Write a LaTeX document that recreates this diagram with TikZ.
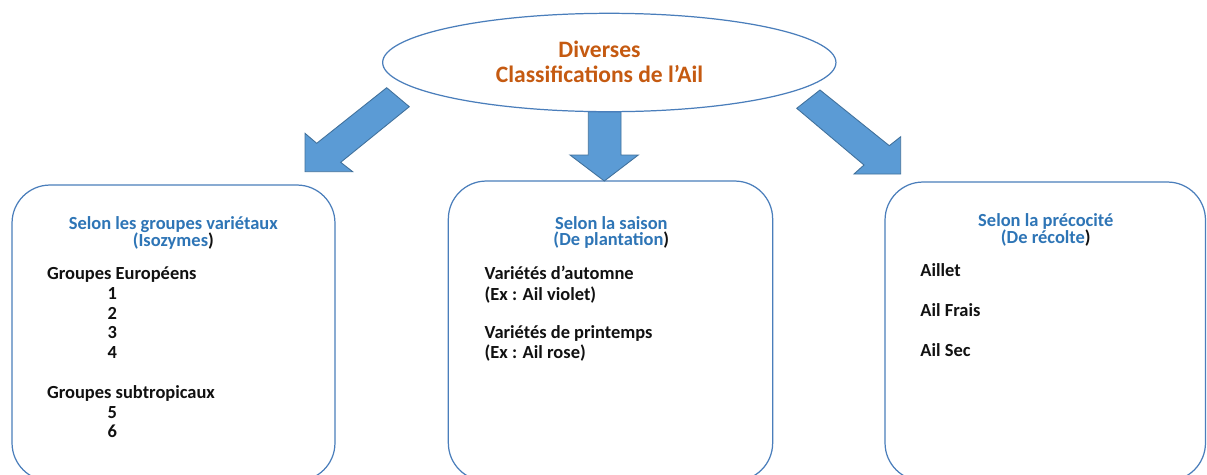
\documentclass[tikz,border=0pt]{standalone}
\usepackage{fontspec}
\setmainfont{Carlito}
\usetikzlibrary{shapes.geometric}
\definecolor{boxline}{HTML}{4A7EBB}
\definecolor{arrowfill}{HTML}{5B9BD5}
\definecolor{arrowline}{HTML}{41719C}
\definecolor{titleblue}{HTML}{2E75B6}
\definecolor{titleorange}{HTML}{C55A11}
\definecolor{textblack}{HTML}{111111}
\begin{document}
\begin{tikzpicture}[x=0.02cm,y=-0.02cm,
  classbox/.style={draw=boxline, line width=0.7pt, rounded corners=0.76cm, rectangle, inner sep=0},
  blockarrow/.style={fill=arrowfill, draw=arrowline, line width=0.5pt, line join=miter},
  txt/.style={font=\fontsize{10.5}{12}\selectfont\bfseries, text=textblack, inner sep=0, anchor=base west},
  head/.style={font=\fontsize{10.5}{12}\selectfont\bfseries, text=titleblue, inner sep=0, anchor=base},
  roottxt/.style={font=\fontsize{13.4}{15}\selectfont\bfseries, text=titleorange, inner sep=0, anchor=base}]
\clip (0,0) rectangle (1207,474);
\fill[white] (0,0) rectangle (1207,474);
% boxes
\node[classbox, minimum width=6.46cm, minimum height=5.92cm] (left) at (173.5,333) {};
\node[classbox, minimum width=6.488cm, minimum height=6.0cm] (mid) at (610.5,331) {};
\node[classbox, minimum width=6.41cm, minimum height=5.98cm] (right) at (1045.25,331.5) {};
% block arrows
\filldraw[blockarrow] (386.7,87.7) -- (409.3,106.7) -- (340.7,162.3) -- (352.7,171.7) -- (305,171.7) -- (305,133.3) -- (316.7,143.3) -- cycle;
\filldraw[blockarrow] (588.3,111.7) -- (621,111.7) -- (621,155) -- (638.3,155) -- (604.3,181) -- (570,155) -- (588.3,155) -- cycle;
\filldraw[blockarrow] (820,90) -- (796.7,108.3) -- (864,165) -- (854,174) -- (900.7,174) -- (900.7,136.7) -- (889.3,145.7) -- cycle;
% root ellipse
\node[ellipse, draw=boxline, fill=white, line width=0.7pt, minimum width=9.068cm, minimum height=1.968cm, inner sep=0] (root) at (609.3,62.5) {};
\node[roottxt] (r1) at (599.5,57.7) {Diverses};
\node[roottxt] (r2) at (599.5,82.3) {Classifications de l’Ail};
% left box text
\node[head] (l1) at (173.3,229.3) {Selon les groupes variétaux};
\node[head] (l2) at (173.3,246.3) {(Isozymes\textcolor{textblack}{)}};
\node[txt] (l3) at (46.7,279.3) {Groupes Européens};
\node[txt] (l4) at (107.3,299.3) {1};
\node[txt] (l5) at (107.3,319.3) {2};
\node[txt] (l6) at (107.3,338.3) {3};
\node[txt] (l7) at (107.3,358.3) {4};
\node[txt] (l8) at (46.7,398.3) {Groupes subtropicaux};
\node[txt] (l9) at (107.3,418.3) {5};
\node[txt] (l10) at (107.3,437.3) {6};
% middle box text
\node[head] (m1) at (611.3,229) {Selon la saison};
\node[head] (m2) at (611.3,245.7) {(De plantation\textcolor{textblack}{)}};
\node[txt] (m3) at (484.3,279) {Variétés d’automne};
\node[txt] (m4) at (484.3,300) {(Ex : Ail violet)};
\node[txt] (m5) at (484.3,338.3) {Variétés de printemps};
\node[txt] (m6) at (484.3,358.3) {(Ex : Ail rose)};
% right box text
\node[head] (g1) at (1045.8,226) {Selon la précocité};
\node[head] (g2) at (1045.8,243.5) {(De récolte\textcolor{textblack}{)}};
\node[txt] (g3) at (920,276.7) {Aillet};
\node[txt] (g4) at (920,316.7) {Ail Frais};
\node[txt] (g5) at (920,356.7) {Ail Sec};
\end{tikzpicture}
\end{document}
